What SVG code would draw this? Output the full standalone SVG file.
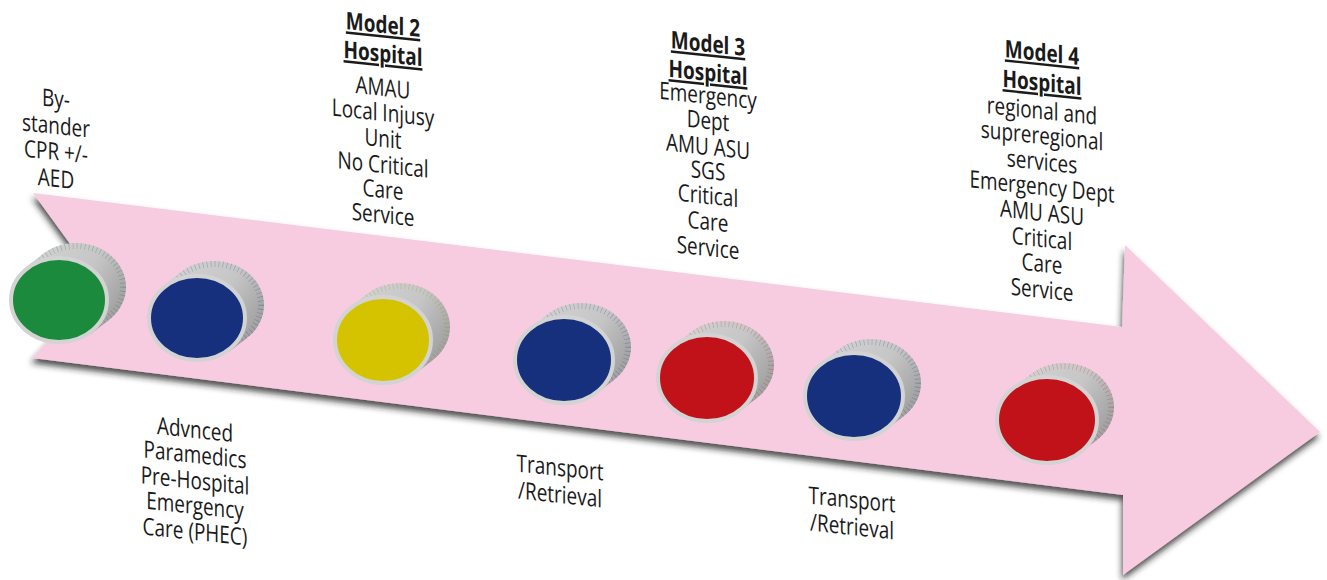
<svg xmlns="http://www.w3.org/2000/svg" xmlns:xlink="http://www.w3.org/1999/xlink" width="1327" height="580" viewBox="0 0 1327 580">
  <defs>
    <style>
      .lbl { font-family: "Open Sans", "Liberation Sans", sans-serif; font-size: 24px; fill: #1a1a1a; text-anchor: middle; }
      .hd { font-weight: 700; text-decoration: underline; }
      .face { stroke: #d3d3d3; stroke-width: 4; }
      .ribs { fill: none; stroke-width: 6; stroke-dasharray: 0.6 3.4; opacity: 0.3; }
    </style>
    <filter id="shadow" x="-5%" y="-5%" width="110%" height="115%">
      <feDropShadow dx="-1" dy="5" stdDeviation="3" flood-color="#222" flood-opacity="0.8"/>
    </filter>
    <linearGradient id="side" x1="0" y1="0" x2="1" y2="0.6">
      <stop offset="0" stop-color="#d4d4d4"/>
      <stop offset="0.6" stop-color="#c6c6c6"/>
      <stop offset="1" stop-color="#a2a2a2"/>
    </linearGradient>
    <g id="cyl">
      <polygon points="31.7,34 -31.7,-34 -14.7,-47 48.7,21" fill="url(#side)"/>
      <ellipse cx="17" cy="-13" rx="50" ry="44" fill="url(#side)"/>
    </g>
  </defs>

  <g id="arrow">
    <polygon points="33,193 1122,327 1125,245 1320,432 1123,575 1123,495 32,358 100,285" fill="#f8cce0" filter="url(#shadow)"/>
  </g>

  <g id="connectors"></g>

  <g id="node-green" transform="translate(59,300)">
    <use xlink:href="#cyl"/>
    <ellipse cx="17" cy="-13" rx="47" ry="41" class="ribs" stroke="#1b5a2c"/>
    <ellipse class="face" cx="0" cy="0" rx="48" ry="42" fill="#1b8a3c"/>
  </g>
  <g id="node-blue1" transform="translate(197,318)">
    <use xlink:href="#cyl"/>
    <ellipse cx="17" cy="-13" rx="47" ry="41" class="ribs" stroke="#17307d"/>
    <ellipse class="face" cx="0" cy="0" rx="48" ry="42" fill="#17307d"/>
  </g>
  <g id="node-yellow" transform="translate(383,340)">
    <use xlink:href="#cyl"/>
    <ellipse cx="17" cy="-13" rx="47" ry="41" class="ribs" stroke="#8f8400"/>
    <ellipse class="face" cx="0" cy="0" rx="48" ry="43" fill="#d5c300"/>
  </g>
  <g id="node-blue2" transform="translate(564,360)">
    <use xlink:href="#cyl"/>
    <ellipse cx="17" cy="-13" rx="47" ry="41" class="ribs" stroke="#17307d"/>
    <ellipse class="face" cx="0" cy="0" rx="49" ry="43" fill="#17307d"/>
  </g>
  <g id="node-red1" transform="translate(707,378)">
    <use xlink:href="#cyl"/>
    <ellipse cx="17" cy="-13" rx="47" ry="41" class="ribs" stroke="#c1121a"/>
    <ellipse class="face" cx="0" cy="0" rx="49" ry="43" fill="#c1121a"/>
  </g>
  <g id="node-blue3" transform="translate(854,396)">
    <use xlink:href="#cyl"/>
    <ellipse cx="17" cy="-13" rx="47" ry="41" class="ribs" stroke="#17307d"/>
    <ellipse class="face" cx="0" cy="0" rx="49" ry="43" fill="#17307d"/>
  </g>
  <g id="node-red2" transform="translate(1047,420)">
    <use xlink:href="#cyl"/>
    <ellipse cx="17" cy="-13" rx="47" ry="41" class="ribs" stroke="#c1121a"/>
    <ellipse class="face" cx="0" cy="0" rx="50" ry="43" fill="#c1121a"/>
  </g>

  <g id="label-bystander" transform="translate(56,0) skewY(6) scale(0.79,1)">
    <text class="lbl" x="0" y="107">By-</text>
    <text class="lbl" x="0" y="134">stander</text>
    <text class="lbl" x="0" y="160">CPR +/-</text>
    <text class="lbl" x="0" y="187">AED</text>
  </g>

  <g id="label-model2" transform="translate(383,0) skewY(6) scale(0.79,1)">
    <text class="lbl hd" x="0" y="33">Model 2</text>
    <text class="lbl hd" x="0" y="62">Hospital</text>
    <text class="lbl" x="0" y="96">AMAU</text>
    <text class="lbl" x="0" y="121">Local Injusy</text>
    <text class="lbl" x="0" y="147">Unit</text>
    <text class="lbl" x="0" y="173">No Critical</text>
    <text class="lbl" x="0" y="198">Care</text>
    <text class="lbl" x="0" y="223">Service</text>
  </g>

  <g id="label-model3" transform="translate(708,0) skewY(6) scale(0.79,1)">
    <text class="lbl hd" x="0" y="52">Model 3</text>
    <text class="lbl hd" x="0" y="81">Hospital</text>
    <text class="lbl" x="0" y="104">Emergency</text>
    <text class="lbl" x="0" y="129">Dept</text>
    <text class="lbl" x="0" y="155">AMU ASU</text>
    <text class="lbl" x="0" y="179">SGS</text>
    <text class="lbl" x="0" y="204">Critical</text>
    <text class="lbl" x="0" y="230">Care</text>
    <text class="lbl" x="0" y="256">Service</text>
  </g>

  <g id="label-model4" transform="translate(1042,0) skewY(6) scale(0.79,1)">
    <text class="lbl hd" x="0" y="61">Model 4</text>
    <text class="lbl hd" x="0" y="91">Hospital</text>
    <text class="lbl" x="0" y="119">regional and</text>
    <text class="lbl" x="0" y="144">supreregional</text>
    <text class="lbl" x="0" y="170">services</text>
    <text class="lbl" x="0" y="195">Emergency Dept</text>
    <text class="lbl" x="0" y="221">AMU ASU</text>
    <text class="lbl" x="0" y="247">Critical</text>
    <text class="lbl" x="0" y="272">Care</text>
    <text class="lbl" x="0" y="298">Service</text>
  </g>

  <g id="label-phec" transform="translate(195,0) skewY(6) scale(0.79,1)">
    <text class="lbl" x="0" y="438">Advnced</text>
    <text class="lbl" x="0" y="463">Paramedics</text>
    <text class="lbl" x="0" y="489">Pre-Hospital</text>
    <text class="lbl" x="0" y="514">Emergency</text>
    <text class="lbl" x="0" y="540">Care (PHEC)</text>
  </g>

  <g id="label-transport1" transform="translate(560,0) skewY(6) scale(0.79,1)">
    <text class="lbl" x="0" y="476">Transport</text>
    <text class="lbl" x="0" y="503">/Retrieval</text>
  </g>

  <g id="label-transport2" transform="translate(852,0) skewY(6) scale(0.79,1)">
    <text class="lbl" x="0" y="508">Transport</text>
    <text class="lbl" x="0" y="535">/Retrieval</text>
  </g>
</svg>
